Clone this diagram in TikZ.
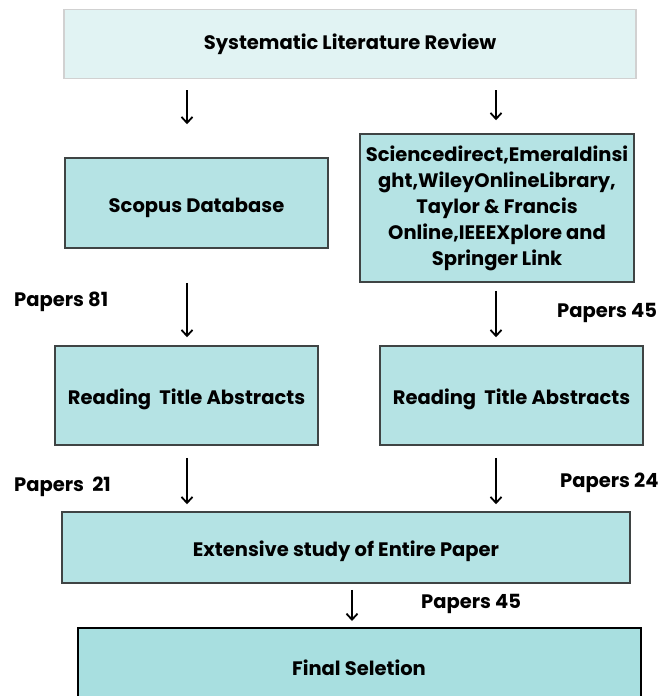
\documentclass[tikz,border=0pt]{standalone}
\usepackage{fontspec}
\setmainfont{Poppins}
\usetikzlibrary{arrows.meta, positioning}
\definecolor{PaleCyan}{HTML}{E1F3F3}
\definecolor{BoxCyan}{HTML}{B5E3E4}
\definecolor{DeepCyan}{HTML}{A8DFE0}
\definecolor{EdgeGray}{HTML}{3F4444}

\begin{document}
\begin{tikzpicture}[x = 1pt, y = -1pt, font = \bfseries\fontsize{19.5}{26}\selectfont]%
    %
    \tikzstyle{arrow} = [-{Straight Barb[length = 6pt, width = 11pt]}, draw = black, line width = 1.8pt]%
    \tikzstyle{headblock} = [rectangle, draw = black!18, fill = PaleCyan, line width = 1.5pt, minimum width = 572pt, minimum height = 69pt, inner sep = 0pt]%
    \tikzstyle{block} = [rectangle, draw = EdgeGray, fill = BoxCyan, line width = 1.5pt, minimum width = 263pt, minimum height = 90pt, text centered, inner sep = 0pt]%
    \tikzstyle{oneline} = [text height = 18pt, text depth = 0pt]%
    \tikzstyle{finalblock} = [rectangle, draw = black, fill = DeepCyan, line width = 2pt, minimum width = 563pt, minimum height = 80pt, inner sep = 0pt]%
    \tikzstyle{count} = [anchor = west, inner sep = 0pt, text height = 16pt, text depth = 0pt]%
    %
    \useasboundingbox (0, 0) rectangle (658, 696);%
    %
    \node [headblock] (slr) at (350, 44) {Systematic Literature Review};%
    \node [block, oneline] (scopus) at (196.5, 203) {Scopus Database};%
    \node [block, minimum width = 274pt, minimum height = 148pt, align = center] (sources) at (497, 208) {Sciencedirect,Emeraldinsi\\ght,WileyOnlineLibrary,\\Taylor \& Francis\\Online,IEEEXplore and\\Springer Link};%
    \node [block, oneline, minimum height = 99pt] (read-left) at (186.5, 395.5) {Reading\ \ Title Abstracts};%
    \node [block, oneline, minimum height = 99pt] (read-right) at (511.5, 395.5) {Reading\ \ Title Abstracts};%
    \node [block, oneline, fill = BoxCyan!90!DeepCyan, minimum width = 568pt, minimum height = 71pt] (extensive) at (346, 547.5) {Extensive study of Entire Paper};%
    \node [finalblock] (final) at (359, 668) {Final Seletion};%
    %
    \node [count] (papers-81) at (14, 298) {Papers 81};%
    \node [count] (papers-45-right) at (557, 309) {Papers 45};%
    \node [count] (papers-21) at (14, 483) {Papers\ \ 21};%
    \node [count] (papers-24) at (560, 479) {Papers 24};%
    \node [count] (papers-45-final) at (421, 600) {Papers 45};%
    %
    \coordinate (xl) at (187, 0);%
    \coordinate (xr) at (496, 0);%
    \coordinate (xm) at (352, 0);%
    %
    \draw [arrow, shorten < = 11pt, shorten > = 33pt] (slr.south -| xl) -- (scopus.north -| xl);%
    \draw [arrow, shorten < = 11pt, shorten > = 13pt] (slr.south -| xr) -- (sources.north -| xr);%
    \draw [arrow, shorten < = 34pt, shorten > = 8pt] (scopus.south -| xl) -- (read-left.north -| xl);%
    \draw [arrow, shorten < = 8pt, shorten > = 8pt] (sources.south -| xr) -- (read-right.north -| xr);%
    \draw [arrow, shorten < = 12pt, shorten > = 7pt] (read-left.south -| xl) -- (extensive.north -| xl);%
    \draw [arrow, shorten < = 12pt, shorten > = 7pt] (read-right.south -| xr) -- (extensive.north -| xr);%
    \draw [arrow, shorten < = 6pt, shorten > = 6pt] (extensive.south -| xm) -- (final.north -| xm);%
    %
\end{tikzpicture}
\end{document}
